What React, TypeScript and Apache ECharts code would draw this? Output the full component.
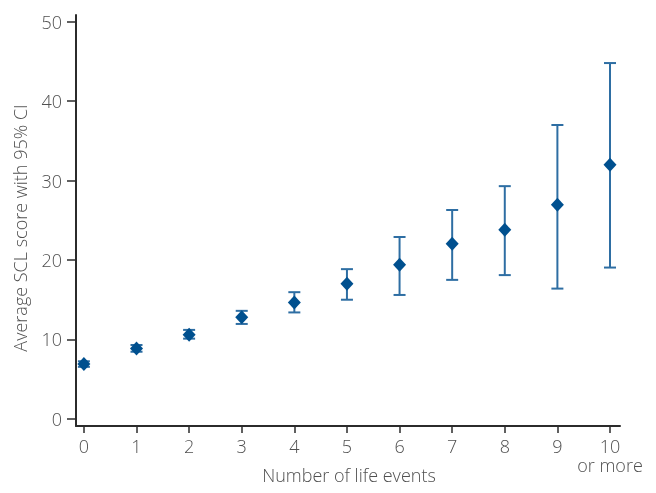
import React, { useEffect, useRef } from "react";
import * as echarts from "echarts";

const categories = ["0", "1", "2", "3", "4", "5", "6", "7", "8", "9", "10\nor more"];
const means = [6.9, 8.85, 10.6, 12.8, 14.65, 17.0, 19.4, 22.05, 23.8, 26.95, 32.0];
const lower = [6.55, 8.45, 10.1, 11.95, 13.4, 15.0, 15.6, 17.5, 18.1, 16.4, 19.05];
const upper = [7.25, 9.3, 11.2, 13.6, 15.95, 18.85, 22.9, 26.3, 29.3, 37.0, 44.8];
const yTicks = [0, 10, 20, 30, 40, 50];
const xTicks = [0, 1, 2, 3, 4, 5, 6, 7, 8, 9, 10];

const textColor = "#505050";
const font = "'Open Sans', 'DejaVu Sans', sans-serif";

export default function App() {
  const ref = useRef<HTMLDivElement>(null);
  useEffect(() => {
    if (!ref.current) return;
    const chart = echarts.init(ref.current, undefined, { renderer: "svg" });
    const errData = xTicks.map((x, i) => [x, lower[i], upper[i]]);
    const ptData = xTicks.map((x, i) => [x, means[i]]);
    chart.setOption({
      animation: false,
      grid: { left: 76, top: 15, right: 36, bottom: 67, outerBoundsMode: "none", containLabel: false },
      xAxis: {
        type: "value",
        min: -0.15,
        max: 10.19,
        axisLine: { show: true, onZero: false, lineStyle: { color: "#2b2b2b", width: 2 } },
        axisTick: { show: true, length: 7, customValues: xTicks, lineStyle: { color: "#2b2b2b", width: 1.5 } },
        axisLabel: {
          customValues: xTicks,
          formatter: (v: number) => categories[Math.round(v)],
          color: textColor,
          fontSize: 18,
          fontFamily: font,
          fontWeight: 300,
          lineHeight: 19,
          margin: 10,
        },
        splitLine: { show: false },
      },
      yAxis: {
        type: "value",
        min: -0.9,
        max: 50.85,
        axisLine: { show: true, onZero: false, lineStyle: { color: "#2b2b2b", width: 2 } },
        axisTick: { show: true, length: 9, customValues: yTicks, lineStyle: { color: "#2b2b2b", width: 1.5 } },
        axisLabel: {
          customValues: yTicks,
          color: textColor,
          fontSize: 18,
          fontFamily: font,
          fontWeight: 300,
          margin: 14,
        },
        splitLine: { show: false },
      },
      graphic: [
        {
          type: "text",
          x: 20,
          y: 228,
          rotation: Math.PI / 2,
          style: {
            text: "Average SCL score with 95% CI",
            fill: textColor,
            font: `300 18px ${font}`,
            align: "center",
            verticalAlign: "middle",
          },
        },
        {
          type: "text",
          x: 349,
          y: 475,
          style: {
            text: "Number of life events",
            fill: textColor,
            font: `300 18px ${font}`,
            align: "center",
            verticalAlign: "middle",
          },
        },
      ],
      series: [
        {
          type: "custom",
          data: errData,
          renderItem: (params: any, api: any) => {
            const x = api.value(0);
            const lo = api.coord([x, api.value(1)]);
            const hi = api.coord([x, api.value(2)]);
            const hw = 6;
            const style = { stroke: "#2e6ea3", lineWidth: 2 };
            return {
              type: "group",
              children: [
                { type: "line", shape: { x1: lo[0], y1: lo[1], x2: hi[0], y2: hi[1] }, style },
                { type: "line", shape: { x1: lo[0] - hw, y1: lo[1], x2: lo[0] + hw, y2: lo[1] }, style },
                { type: "line", shape: { x1: hi[0] - hw, y1: hi[1], x2: hi[0] + hw, y2: hi[1] }, style },
              ],
            };
          },
          z: 2,
        },
        {
          type: "scatter",
          data: ptData,
          symbol: "diamond",
          symbolSize: [13, 14],
          itemStyle: { color: "#00508f", opacity: 1 },
          z: 3,
        },
      ],
    });
    return () => chart.dispose();
  }, []);
  return (
    <div
      ref={ref}
      style={{ position: "fixed", left: 0, top: 0, width: 656, height: 493 }}
    />
  );
}
